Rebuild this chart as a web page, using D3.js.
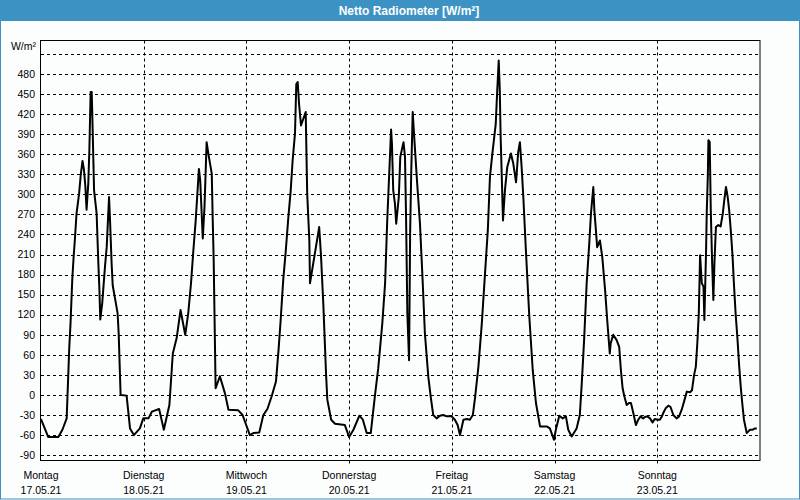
<!DOCTYPE html>
<html>
<head>
<meta charset="utf-8">
<script src="https://cdn.jsdelivr.net/npm/d3@7"></script>
<style>
  html, body { margin: 0; padding: 0; background: #fcfefe; }
  svg { display: block; }
  text { font-family: "Liberation Sans", Arial, sans-serif; }
</style>
</head>
<body>
<svg id="chart" width="800" height="500"></svg>
<script>
// ---- data (hours since Monday 17.05.21 00:00, W/m²) ----
const hours = [
  0.0, 1.7, 4.05, 5.0, 6.0, 6.6, 6.9, 7.3, 7.6, 7.9, 8.3, 8.9, 9.3, 9.7, 10.05, 10.35, 10.65, 11.05, 11.3, 11.6,
  11.85, 12.0, 12.4, 13.0, 13.4, 13.65, 13.85, 14.3, 14.95, 15.35, 15.9, 16.1, 16.5, 16.75, 17.5, 17.9, 18.15, 18.6, 20.0, 20.8,
  21.7, 23.1, 23.9, 25.1, 25.9, 27.6, 28.7, 30.0, 30.8, 31.7, 32.6, 33.7, 34.4, 35.05, 35.6, 36.15, 36.9, 37.2, 37.8, 38.2,
  38.7, 39.1, 39.9, 40.1, 40.35, 40.8, 41.8, 43.0, 43.8, 46.1, 47.1, 48.8, 49.6, 51.0, 51.95, 52.9, 53.9, 54.9, 55.5, 56.0,
  56.6, 57.2, 57.8, 58.35, 58.8, 59.35, 59.65, 59.98, 60.3, 60.75, 61.3, 61.85, 62.2, 62.7, 62.85, 65.0, 65.4, 65.96, 66.6, 66.9,
  67.8, 68.7, 71.0, 72.0, 73.0, 74.4, 75.2, 76.1, 77.05, 78.05, 78.8, 79.75, 80.4, 80.9, 81.3, 81.8, 82.0, 82.3, 82.7, 83.0,
  83.6, 83.95, 84.7, 85.05, 85.3, 85.6, 86.0, 86.25, 86.5, 86.85, 87.2, 87.9, 88.55, 89.2, 89.7, 90.5, 91.05, 91.65, 92.45, 93.2,
  94.0, 94.8, 95.95, 96.7, 97.35, 97.9, 98.7, 99.5, 100.2, 100.9, 101.4, 102.2, 103.0, 103.7, 104.4, 104.9, 105.45, 106.25, 106.6, 106.95,
  107.2, 107.4, 107.95, 108.4, 108.95, 109.8, 110.35, 111.0, 111.5, 111.9, 112.3, 112.7, 113.3, 114.1, 114.9, 115.65, 116.6, 118.15, 118.9, 119.85,
  120.3, 121.1, 121.9, 122.65, 123.2, 124.0, 125.15, 125.9, 126.35, 126.9, 127.5, 128.1, 128.5, 129.05, 129.3, 129.6, 129.95, 130.6, 131.15, 131.8,
  132.3, 132.9, 133.1, 133.7, 134.5, 135.1, 135.5, 135.9, 136.3, 136.85, 137.4, 137.85, 138.4, 139.0, 139.55, 140.1, 140.7, 141.1, 141.65, 142.3,
  142.9, 143.4, 144.0, 144.6, 145.0, 145.4, 145.95, 146.6, 147.1, 147.75, 148.5, 149.1, 149.7, 150.25, 150.9, 151.65, 152.1, 152.6, 153.0, 153.35,
  153.7, 154.0, 154.4, 154.8, 155.0, 155.4, 155.55, 155.8, 155.95, 156.25, 156.5, 156.8, 157.1, 157.35, 157.7, 158.25, 158.8, 159.3, 159.65, 160.05,
  160.45, 160.8, 161.2, 161.6, 161.9, 162.3, 162.7, 163.15, 163.5, 163.85, 164.25, 164.9, 165.65, 166.3, 166.85, 167.25
];
const wm2 = [
  -36, -63, -63, -52, -35, 70, 107, 172, 204, 231, 271, 301, 330, 350, 336, 313, 277, 316, 366, 453,
  453, 415, 306, 271, 197, 157, 113, 137, 192, 221, 296, 266, 197, 164, 137, 122, 92, 0, -1, -50,
  -60, -50, -35, -35, -25, -21, -52, -15, 62, 85, 127, 90, 122, 167, 216, 261, 338, 321, 234, 281,
  378, 361, 331, 269, 201, 10, 28, 2, -22, -23, -30, -60, -57, -56, -30, -21, -2, 20, 67, 112,
  172, 216, 266, 306, 351, 391, 465, 468, 435, 403, 413, 423, 301, 231, 167, 251, 211, 137, 32, -7,
  -37, -43, -45, -63, -52, -31, -37, -57, -57, 0, 40, 107, 167, 261, 321, 397, 376, 306, 286, 256,
  296, 356, 378, 356, 266, 122, 52, 241, 331, 423, 386, 316, 256, 167, 92, 27, -2, -30, -35, -31,
  -30, -32, -32, -37, -45, -60, -37, -36, -37, -30, -5, 42, 107, 177, 246, 326, 360, 405, 455, 500,
  455, 386, 261, 306, 341, 361, 346, 318, 363, 378, 341, 296, 216, 117, 37, -12, -47, -47, -50, -67,
  -52, -31, -35, -32, -52, -62, -50, -30, 17, 82, 167, 226, 271, 311, 276, 251, 221, 231, 206, 157,
  112, 62, 77, 90, 82, 72, 37, 10, -2, -15, -12, -12, -27, -45, -37, -32, -35, -33, -32, -35,
  -41, -36, -37, -37, -33, -27, -20, -16, -18, -30, -35, -32, -22, -10, 5, 4, 7, 30, 42, 77,
  122, 209, 167, 162, 112, 216, 271, 326, 381, 378, 276, 201, 142, 197, 251, 254, 252, 271, 291, 311,
  296, 276, 244, 206, 167, 122, 87, 42, 12, -12, -37, -57, -52, -52, -50, -50
];
const yTickValues = [-90, -60, -30, 0, 30, 60, 90, 120, 150, 180, 210, 240, 270, 300, 330, 360, 390, 420, 450, 480];
const yGridValues = yTickValues.concat([510]);
const dayNames = ["Montag", "Dienstag", "Mittwoch", "Donnerstag", "Freitag", "Samstag", "Sonntag"];
const dayDates = ["17.05.21", "18.05.21", "19.05.21", "20.05.21", "21.05.21", "22.05.21", "23.05.21"];
const dayStarts = [0, 24, 48, 72, 96, 120, 144];
const titleText = "Netto Radiometer [W/m²]";
const unitText = "W/m²";

(function () {
  // ---- layout ----
  const svg = d3.select("#chart");
  const pL = 41, pR = 760, pT = 40.5, pB = 460.5;
  const x = d3.scaleLinear().domain([0, 168]).range([pL, pR]);
  const y = d3.scaleLinear().domain([-98, 530]).range([pB, pT]);
  const snap = v => Math.round(v) + 0.5;

  svg.append("rect").attr("x", 0).attr("y", 0).attr("width", 800).attr("height", 500).attr("fill", "#fcfefe");
  // title bar
  svg.append("rect").attr("x", 0).attr("y", 0).attr("width", 800).attr("height", 21).attr("fill", "#3d92c4");
  svg.append("text").attr("x", 409).attr("y", 15).attr("text-anchor", "middle")
    .attr("fill", "#ffffff").attr("font-weight", "bold").attr("font-size", "12px").text(titleText);
  // outer border
  svg.append("rect").attr("x", 0.5).attr("y", 0.5).attr("width", 799).attr("height", 498.5)
    .attr("fill", "none").attr("stroke", "#3d92c4").attr("stroke-width", 1);

  // horizontal grid
  svg.append("g").selectAll("line").data(yGridValues).join("line")
    .attr("x1", pL).attr("x2", pR)
    .attr("y1", d => snap(y(d))).attr("y2", d => snap(y(d)))
    .attr("stroke", "#000").attr("stroke-width", 1).attr("stroke-dasharray", "3,3");

  // vertical grid (day boundaries)
  svg.append("g").selectAll("line").data(dayStarts.slice(1)).join("line")
    .attr("x1", d => snap(x(d))).attr("x2", d => snap(x(d)))
    .attr("y1", pT).attr("y2", pB + 3)
    .attr("stroke", "#000").attr("stroke-width", 1).attr("stroke-dasharray", "3,3");

  // plot frame
  svg.append("rect").attr("x", pL - 0.5).attr("y", pT).attr("width", pR - pL + 0.5).attr("height", pB - pT)
    .attr("fill", "none").attr("stroke", "#000").attr("stroke-width", 1);

  // y tick labels
  svg.append("g").selectAll("text").data(yTickValues).join("text")
    .attr("x", 35).attr("y", d => y(d)).attr("dy", "0.36em")
    .attr("text-anchor", "end").attr("font-size", "10.5px").attr("fill", "#000")
    .text(d => d);
  svg.append("text").attr("x", 36).attr("y", 46).attr("dy", "0.36em")
    .attr("text-anchor", "end").attr("font-size", "10.5px").attr("fill", "#000").text(unitText);

  // x labels
  const xl = svg.append("g");
  xl.selectAll("text.day").data(dayStarts).join("text").attr("class", "day")
    .attr("x", d => x(d)).attr("y", 479).attr("text-anchor", "middle")
    .attr("font-size", "10.5px").attr("fill", "#000").text((d, i) => dayNames[i]);
  xl.selectAll("text.date").data(dayStarts).join("text").attr("class", "date")
    .attr("x", d => x(d)).attr("y", 494).attr("text-anchor", "middle")
    .attr("font-size", "10.5px").attr("fill", "#000").text((d, i) => dayDates[i]);

  // line
  const pts = hours.map((h, i) => [h, wm2[i]]);
  const line = d3.line().x(d => x(d[0])).y(d => y(d[1]));
  svg.append("path").datum(pts).attr("d", line)
    .attr("fill", "none").attr("stroke", "#000").attr("stroke-width", 2)
    .attr("stroke-linejoin", "round");
})();
</script>
</body>
</html>
